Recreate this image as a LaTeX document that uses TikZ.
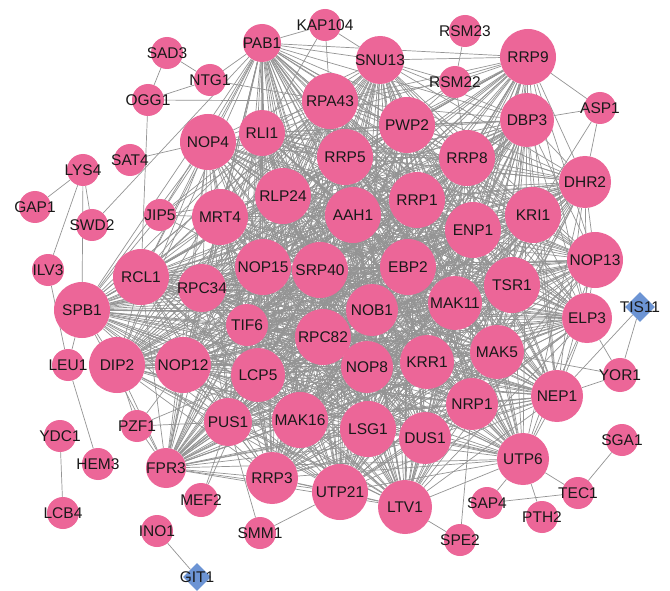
\documentclass[tikz,border=0pt]{standalone}
\usepackage{fontspec}
\setmainfont{Liberation Sans}
\usetikzlibrary{shapes.geometric,backgrounds}
\definecolor{pinkc}{RGB}{236,102,152}
\definecolor{bluec}{RGB}{108,148,212}
\definecolor{edgec}{RGB}{148,148,148}
\newcommand\pnd[3]{\node[pn=#1,label={[lab]center:#2}] (#2) at (#3) {};}
\begin{document}
\begin{tikzpicture}[x=1pt,y=-1pt,
  pn/.style={circle,fill=pinkc,draw=none,inner sep=0pt,minimum size=#1},
  dn/.style={diamond,fill=bluec,draw=none,inner sep=0pt,minimum size=#1,aspect=1},
  lab/.style={font=\fontsize{15.5}{18}\selectfont,text=black!90,inner sep=0pt},
  ed/.style={draw=edgec,line width=0.7pt}]
\useasboundingbox (0,0) rectangle (670,591);
% nodes
\pnd{38}{PAB1}{262,43}
\pnd{32}{KAP104}{325,25}
\pnd{32}{SAD3}{167,53}
\pnd{32}{NTG1}{210,80}
\pnd{32}{OGG1}{148,100}
\pnd{56}{RPA43}{330,101}
\pnd{48}{SNU13}{380,60}
\pnd{32}{RSM23}{465,31}
\pnd{32}{RSM22}{455,82}
\pnd{56}{RRP9}{528,57}
\pnd{32}{ASP1}{600,108}
\pnd{54}{DBP3}{527,120}
\pnd{56}{PWP2}{407,125}
\pnd{56}{RRP8}{467,158}
\pnd{56}{RRP5}{345,157}
\pnd{46}{RLI1}{262,133}
\pnd{56}{NOP4}{208,142}
\pnd{32}{SAT4}{130,160}
\pnd{32}{LYS4}{83,170}
\pnd{32}{GAP1}{35,207}
\pnd{32}{SWD2}{92,225}
\pnd{32}{JIP5}{160,215}
\pnd{56}{MRT4}{220,217}
\pnd{56}{RLP24}{283,196}
\pnd{56}{AAH1}{353,215}
\pnd{56}{RRP1}{417,200}
\pnd{56}{ENP1}{473,230}
\pnd{56}{KRI1}{533,215}
\pnd{52}{DHR2}{585,182}
\pnd{56}{NOP13}{595,260}
\pnd{32}{ILV3}{48,270}
\pnd{56}{RCL1}{141,277}
\pnd{48}{RPC34}{202,288}
\pnd{56}{NOP15}{263,267}
\pnd{56}{SRP40}{320,270}
\pnd{56}{EBP2}{408,267}
\pnd{56}{TSR1}{512,285}
\pnd{50}{ELP3}{587,318}
\node[dn=30] (TIS11) at (640,307) {};
\node[lab] (TIS11lab) at (TIS11) {TIS11};
\pnd{56}{SPB1}{82,310}
\pnd{42}{TIF6}{247,325}
\pnd{56}{RPC82}{323,337}
\pnd{52}{NOB1}{372,310}
\pnd{54}{MAK11}{455,303}
\pnd{54}{MAK5}{497,352}
\pnd{34}{YOR1}{620,375}
\pnd{32}{LEU1}{68,365}
\pnd{56}{DIP2}{117,365}
\pnd{56}{NOP12}{183,365}
\pnd{54}{LCP5}{258,375}
\pnd{52}{NOP8}{367,367}
\pnd{54}{KRR1}{427,362}
\pnd{52}{NEP1}{557,396}
\pnd{52}{NRP1}{472,404}
\pnd{32}{PZF1}{137,426}
\pnd{32}{YDC1}{60,436}
\pnd{48}{PUS1}{228,422}
\pnd{56}{MAK16}{300,420}
\pnd{56}{LSG1}{368,429}
\pnd{52}{DUS1}{425,438}
\pnd{32}{SGA1}{622,440}
\pnd{32}{HEM3}{98,464}
\pnd{40}{FPR3}{166,468}
\pnd{34}{MEF2}{201,500}
\pnd{52}{RRP3}{272,478}
\pnd{56}{UTP21}{340,492}
\pnd{52}{UTP6}{523,459}
\pnd{32}{TEC1}{578,493}
\pnd{54}{LTV1}{405,507}
\pnd{32}{SAP4}{487,503}
\pnd{32}{PTH2}{542,517}
\pnd{32}{LCB4}{63,513}
\pnd{32}{INO1}{157,531}
\pnd{32}{SMM1}{260,533}
\pnd{32}{SPE2}{460,540}
\node[dn=28] (GIT1) at (197,577) {};
\node[lab] (GIT1lab) at (GIT1) {GIT1};
% edges
\begin{pgfonlayer}{background}
\fill[white] (0,0) rectangle (670,591);
\def\corelist{PAB1,RPA43,SNU13,RRP9,DBP3,PWP2,RRP8,RRP5,RLI1,NOP4,MRT4,RLP24,AAH1,RRP1,ENP1,KRI1,DHR2,NOP13,RCL1,RPC34,NOP15,SRP40,EBP2,TSR1,ELP3,SPB1,TIF6,RPC82,NOB1,MAK11,MAK5,DIP2,NOP12,LCP5,NOP8,KRR1,NEP1,NRP1,PUS1,MAK16,LSG1,DUS1,FPR3,RRP3,UTP21,UTP6,LTV1}
\foreach \a [count=\i] in \corelist {
  \foreach \b [count=\j] in \corelist {
    \ifnum\j>\i
      \pgfmathtruncatemacro\k{mod(\i*\j+\i+\j,6)}
      \ifnum\k>0 \draw[ed] (\a) -- (\b); \fi
    \fi
  }
}
\foreach \a/\b in {PAB1/KAP104,KAP104/SNU13,KAP104/RLI1,KAP104/RPA43,
  SAD3/NTG1,SAD3/OGG1,NTG1/OGG1,NTG1/RPA43,NTG1/PAB1,OGG1/RPA43,OGG1/RCL1,
  SAT4/NOP4,PAB1/SWD2,LYS4/GAP1,LYS4/SWD2,LYS4/ILV3,LYS4/SPB1,ILV3/LEU1,
  JIP5/NOP4,JIP5/PAB1,JIP5/SPB1,JIP5/MRT4,JIP5/RLI1,JIP5/RLP24,JIP5/NOP15,JIP5/RPA43,
  LEU1/HEM3,LEU1/SPB1,YDC1/LCB4,
  PZF1/DIP2,PZF1/FPR3,PZF1/NOP12,PZF1/PUS1,PZF1/LCP5,
  MEF2/PUS1,MEF2/LCP5,SMM1/PUS1,SMM1/UTP21,INO1/GIT1,
  SPE2/LTV1,SPE2/NRP1,SAP4/UTP6,SAP4/TEC1,PTH2/UTP6,UTP6/TEC1,TEC1/SGA1,
  YOR1/TIS11,YOR1/ELP3,YOR1/NEP1,TIS11/NEP1,YOR1/MAK5,
  ASP1/RRP9,ASP1/DBP3,ASP1/DHR2,ASP1/KRI1,
  RSM23/RSM22,RSM22/SNU13,RSM22/RRP9,RSM22/PWP2,RSM22/RRP5,RSM22/RPA43,RSM22/RRP8}
  {\draw[ed] (\a) -- (\b);}
\end{pgfonlayer}
\end{tikzpicture}
\end{document}
